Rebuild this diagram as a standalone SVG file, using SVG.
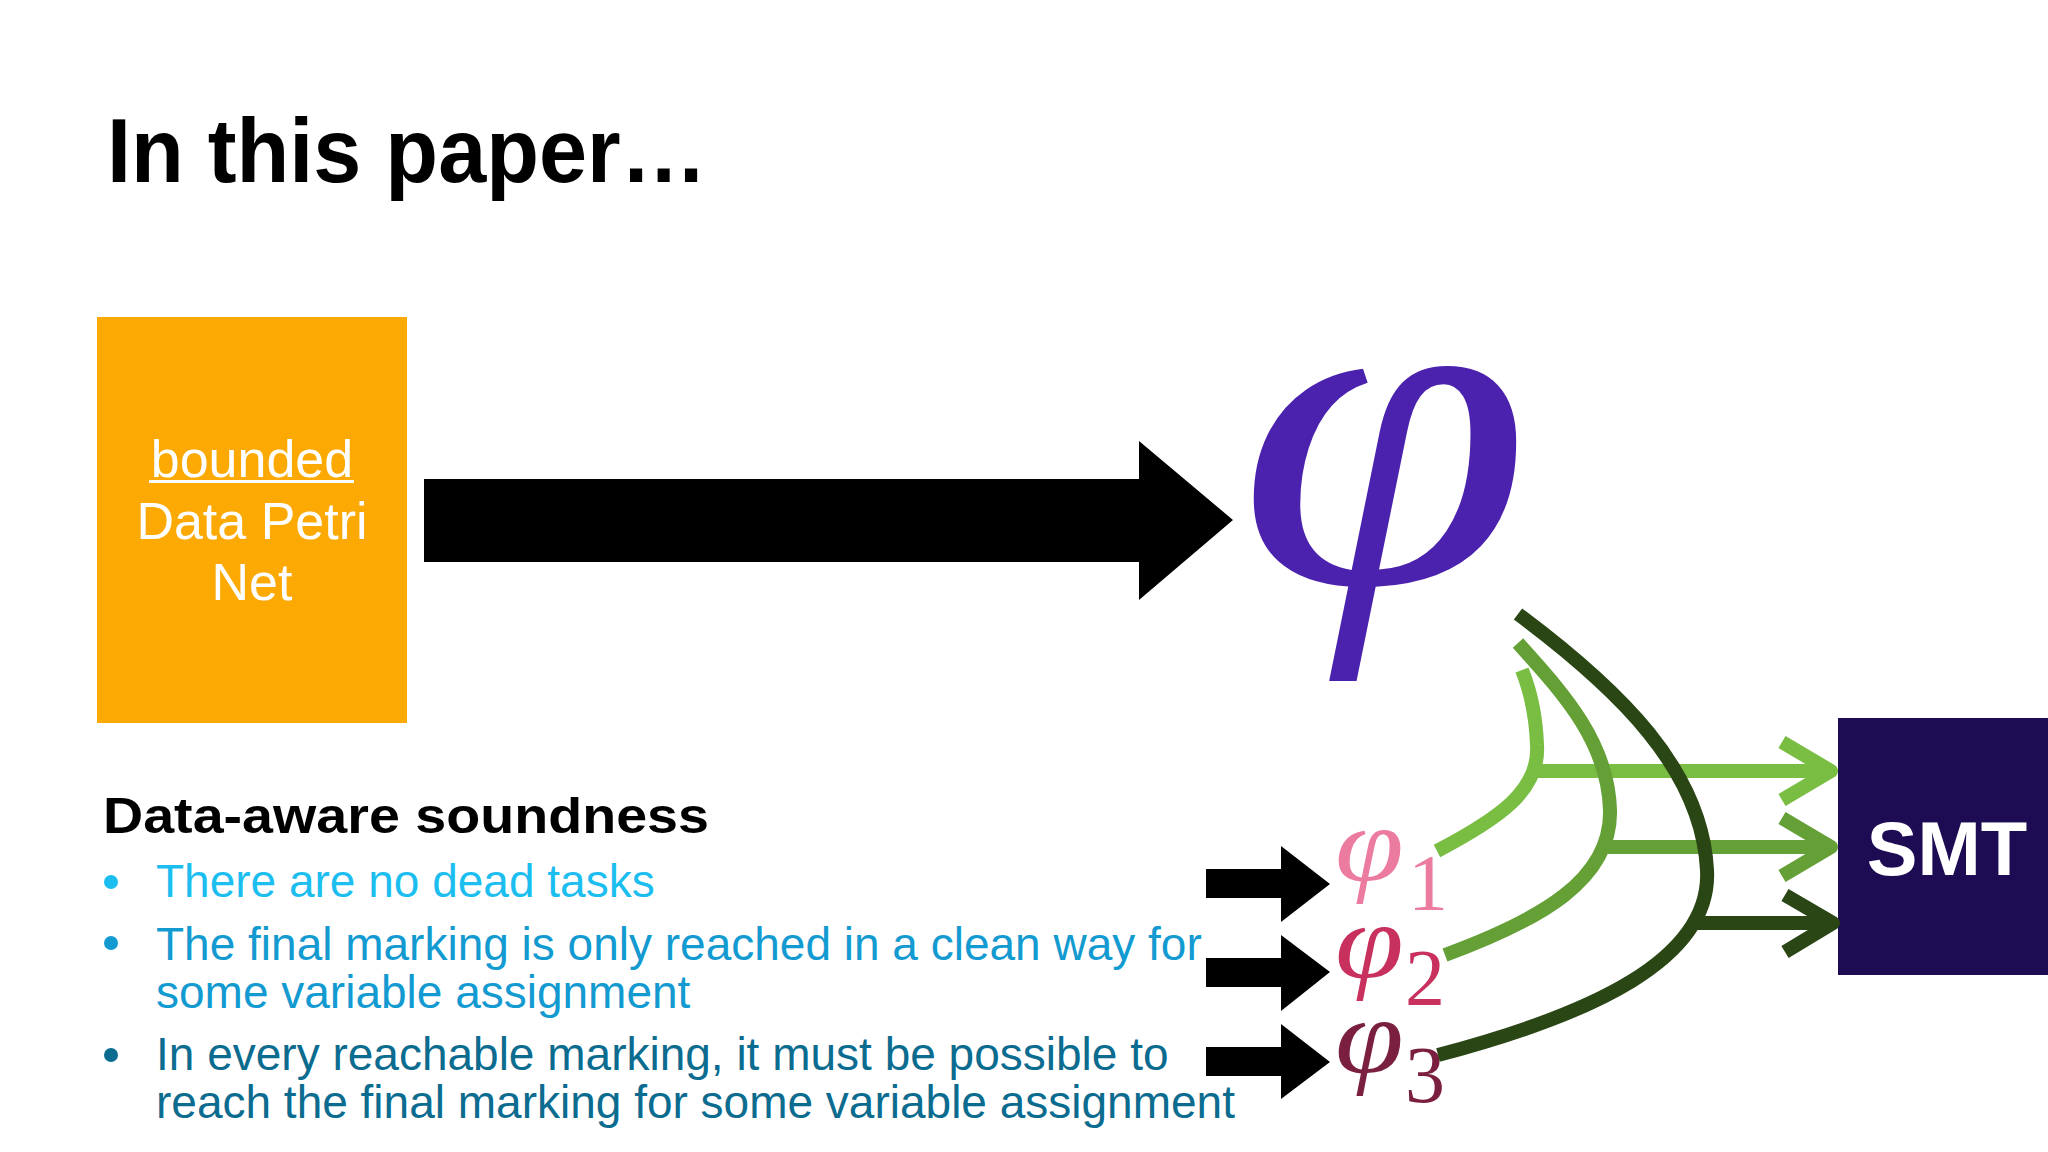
<svg xmlns="http://www.w3.org/2000/svg" width="2048" height="1152" viewBox="0 0 2048 1152">
<style>
.sans{font-family:"Liberation Sans",Arial,sans-serif}
.serif{font-family:"Liberation Serif","Times New Roman",serif;font-style:italic}
.sub{font-family:"Liberation Serif","Times New Roman",serif;font-size:80px}
.lw{fill:#fff}
.bl{font-size:46px}
.cv{fill:none;stroke-width:14;stroke-linecap:butt;stroke-linejoin:round}
</style>
<rect width="2048" height="1152" fill="#fff"/>
<text class="sans" x="107" y="182" font-size="90" font-weight="bold" textLength="600" lengthAdjust="spacingAndGlyphs">In this paper…</text>

<g id="dpn">
<rect x="97" y="317" width="310" height="406" fill="#FCA903"/>
<text class="sans lw" x="252" y="477" font-size="52" text-anchor="middle">bounded</text>
<rect x="149" y="480" width="205" height="3" fill="#fff"/>
<text class="sans lw" x="252" y="539" font-size="52" text-anchor="middle">Data Petri</text>
<text class="sans lw" x="252" y="600" font-size="52" text-anchor="middle">Net</text>
</g>

<g id="phi">
<text class="serif" x="1238" y="583" font-size="460" fill="#4B22AE" transform="translate(1238,0) scale(1.15,1) translate(-1238,0)">φ</text>
</g>

<g id="phi1">
<text class="serif" x="1335" y="881" font-size="108" fill="#EC7BA0" transform="translate(1335,0) scale(1.15,1) translate(-1335,0)">φ</text>
<text class="sub" x="1408" y="910" fill="#EC7BA0">1</text>
</g>
<g id="phi2">
<text class="serif" x="1335" y="978" font-size="108" fill="#C8305E" transform="translate(1335,0) scale(1.15,1) translate(-1335,0)">φ</text>
<text class="sub" x="1405" y="1005" fill="#C8305E">2</text>
</g>
<g id="phi3">
<text class="serif" x="1335" y="1073" font-size="108" fill="#7B1F40" transform="translate(1335,0) scale(1.15,1) translate(-1335,0)">φ</text>
<text class="sub" x="1405" y="1102" fill="#7B1F40">3</text>
</g>

<g id="smt">
<rect x="1838" y="718" width="210" height="257" fill="#1D0B53"/>
<text class="sans lw" x="1947" y="875" font-size="76" font-weight="bold" text-anchor="middle">SMT</text>
</g>

<g id="text">
<text class="sans" x="103" y="833" font-size="50" font-weight="bold" textLength="606" lengthAdjust="spacingAndGlyphs">Data-aware soundness</text>
<circle cx="111" cy="882" r="7" fill="#1CBEF0"/>
<text class="sans bl" x="156" y="897" fill="#1CBEF0">There are no dead tasks</text>
<circle cx="111" cy="943" r="7" fill="#129AD1"/>
<text class="sans bl" x="156" y="960" fill="#129AD1">The final marking is only reached in a clean way for</text>
<text class="sans bl" x="156" y="1008" fill="#129AD1">some variable assignment</text>
<circle cx="111" cy="1055" r="7" fill="#0B6C90"/>
<text class="sans bl" x="156" y="1070" fill="#0B6C90">In every reachable marking, it must be possible to</text>
<text class="sans bl" x="156" y="1118" fill="#0B6C90">reach the final marking for some variable assignment</text>
</g>

<g id="connectors">
<polygon points="424,479 1139,479 1139,441 1233,520 1139,600 1139,562 424,562" fill="#000"/>
<polygon points="1206,869 1281,869 1281,846 1330,884 1281,922 1281,898 1206,898" fill="#000"/>
<polygon points="1206,958 1281,958 1281,935 1330,972 1281,1011 1281,987 1206,987" fill="#000"/>
<polygon points="1206,1047 1281,1047 1281,1024 1330,1062 1281,1099 1281,1076 1206,1076" fill="#000"/>
<g stroke="#79BE43" class="cv">
<path d="M1437,851 C1500,818 1540,790 1537,745 C1536,715 1530,690 1522,670"/>
<path d="M1535,771 H1830"/>
<polyline points="1782,742 1831,771 1782,800"/>
</g>
<g stroke="#64A036" class="cv">
<path d="M1445,955 C1540,920 1612,880 1610,810 C1608,740 1560,690 1518,643"/>
<path d="M1608,847 H1830"/>
<polyline points="1782,818 1831,847 1782,876"/>
</g>
<g stroke="#2A4614" class="cv">
<path d="M1438,1055 C1590,1015 1712,960 1707,870 C1702,770 1620,690 1518,614"/>
<path d="M1697,923 H1832"/>
<polyline points="1785,895 1833,923 1785,952"/>
</g>
</g>
</svg>
